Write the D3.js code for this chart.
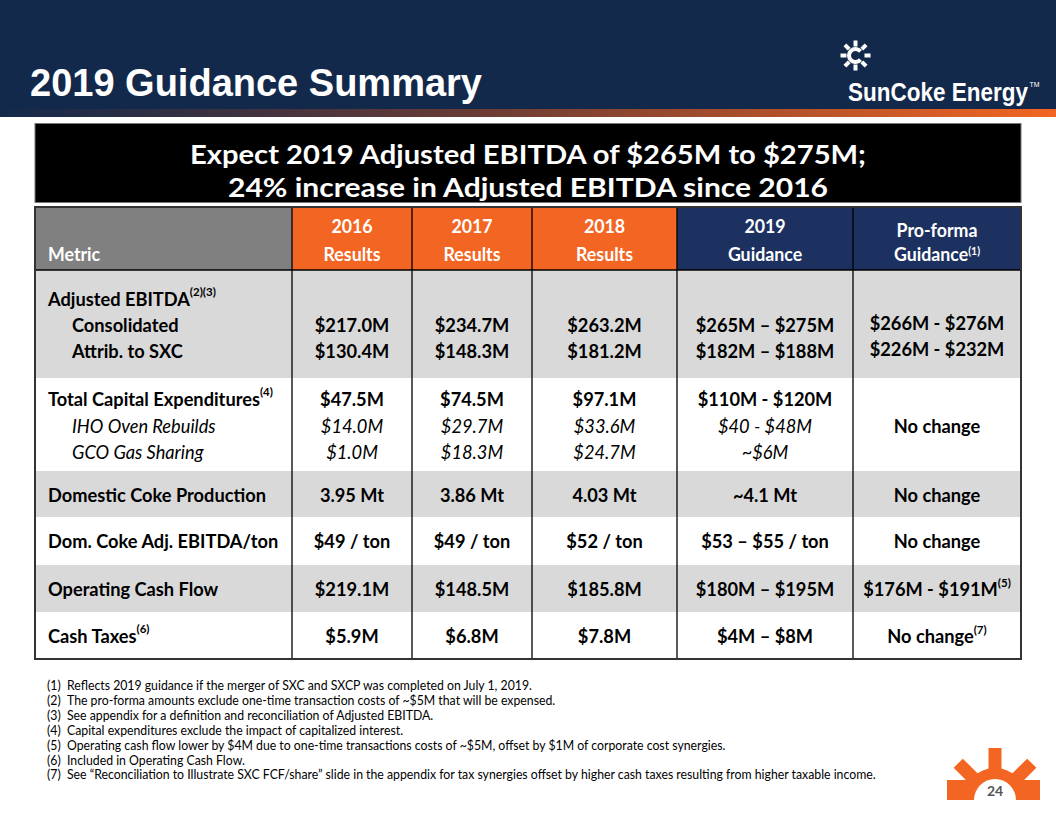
<!DOCTYPE html>
<html><head><meta charset="utf-8">
<script src="https://cdn.jsdelivr.net/npm/d3@7"></script>
<style>
html,body{margin:0;padding:0;background:#fff;}
svg{display:block;}
</style></head>
<body>
<script>
// ---------------- DATA ----------------
const slideTitle = "2019 Guidance Summary";
const bannerLines = ["Expect 2019 Adjusted EBITDA of $265M to $275M;", "24% increase in Adjusted EBITDA since 2016"];
const headerTop = ["", "2016", "2017", "2018", "2019", "Pro-forma"];
const headerBottom = ["Metric", "Results", "Results", "Results", "Guidance", "Guidance"];
const headerNotes = ["", "", "", "", "", "(1)"];
const labels = ["Adjusted EBITDA", "Consolidated", "Attrib. to SXC", "Total Capital Expenditures", "IHO Oven Rebuilds", "GCO Gas Sharing", "Domestic Coke Production", "Dom. Coke Adj. EBITDA/ton", "Operating Cash Flow", "Cash Taxes"];
const labelNotes = ["(2)(3)", "", "", "(4)", "", "", "", "", "", "(6)"];
const lineStyle = ["bold", "bold-indent", "bold-indent", "bold", "italic-indent", "italic-indent", "bold", "bold", "bold", "bold"];
const v2016 = ["", "$217.0M", "$130.4M", "$47.5M", "$14.0M", "$1.0M", "3.95 Mt", "$49 / ton", "$219.1M", "$5.9M"];
const v2017 = ["", "$234.7M", "$148.3M", "$74.5M", "$29.7M", "$18.3M", "3.86 Mt", "$49 / ton", "$148.5M", "$6.8M"];
const v2018 = ["", "$263.2M", "$181.2M", "$97.1M", "$33.6M", "$24.7M", "4.03 Mt", "$52 / ton", "$185.8M", "$7.8M"];
const v2019 = ["", "$265M – $275M", "$182M – $188M", "$110M - $120M", "$40 - $48M", "~$6M", "~4.1 Mt", "$53 – $55 / ton", "$180M – $195M", "$4M – $8M"];
const vProforma = ["", "$266M - $276M", "$226M - $232M", "", "No change", "", "No change", "No change", "$176M - $191M", "No change"];
const proformaNotes = ["", "", "", "", "", "", "", "", "(5)", "(7)"];
const footnotes = [
  "Reflects 2019 guidance if the merger of SXC and SXCP was completed on July 1, 2019.",
  "The pro-forma amounts exclude one-time transaction costs of ~$5M that will be expensed.",
  "See appendix for a definition and reconciliation of Adjusted EBITDA.",
  "Capital expenditures exclude the impact of capitalized interest.",
  "Operating cash flow lower by $4M due to one-time transactions costs of ~$5M, offset by $1M of corporate cost synergies.",
  "Included in Operating Cash Flow.",
  "See \u201cReconciliation to Illustrate SXC FCF/share\u201d slide in the appendix for tax synergies offset by higher cash taxes resulting from higher taxable income."
];
const pageNumber = "24";
const brand = "SunCoke Energy";

// ---------------- LAYOUT ----------------
const W = 1056, H = 816;
const NAVY = "#13294b", ORANGE = "#f26522", TNAVY = "#1c3160", GRAY = "#808080", BAND = "#d9d9d9";
const FONT = "Lato, 'Open Sans', sans-serif";
const K = 0.96;   // horizontal compression for table text
const KF = 0.91;  // footnotes

const svg = d3.select("body").append("svg").attr("width", W).attr("height", H);
const defs = svg.append("defs");

// header band
svg.append("rect").attr("x", 0).attr("y", 0).attr("width", W).attr("height", 110).attr("fill", NAVY);
const grad = defs.append("linearGradient").attr("id", "strip").attr("x1", "0").attr("x2", "1").attr("y1", "0").attr("y2", "0");
grad.append("stop").attr("offset", "0").attr("stop-color", NAVY);
grad.append("stop").attr("offset", "0.45").attr("stop-color", "#6a3b35");
grad.append("stop").attr("offset", "1").attr("stop-color", ORANGE);
svg.append("rect").attr("x", 0).attr("y", 109).attr("width", W).attr("height", 8).attr("fill", "url(#strip)");

svg.append("text").attr("x", 30).attr("y", 96).text(slideTitle)
  .attr("fill", "#fff").attr("font-family", "'Liberation Sans', Arial, sans-serif")
  .attr("font-weight", "bold").attr("font-size", 38);

// logo: small sun
const sun = svg.append("g").attr("transform", "translate(855.5,55.5)");
d3.range(8).forEach(i => {
  sun.append("rect").attr("x", -2).attr("y", -15).attr("width", 4).attr("height", 6)
    .attr("fill", "#fff").attr("transform", `rotate(${i * 45})`);
});
sun.append("path").attr("d", d3.arc().innerRadius(4.5).outerRadius(8.5).startAngle(Math.PI * 0.72).endAngle(Math.PI * 2.28)())
  .attr("fill", "#fff");
const brandText = svg.append("text").attr("transform", "translate(848,101) scale(0.865,1)")
  .attr("fill", "#fff").attr("font-family", "'Liberation Sans', Arial, sans-serif").attr("font-weight", "bold")
  .attr("font-size", 26);
brandText.append("tspan").text(brand);
brandText.append("tspan").attr("font-size", 8).attr("font-weight", "normal").attr("dx", 2).attr("dy", -14).text("TM");

// banner box
svg.append("rect").attr("x", 35).attr("y", 123.5).attr("width", 986).attr("height", 79)
  .attr("fill", "#000").attr("stroke", "#777").attr("stroke-width", 1);
const bannerW = [676, 600];
bannerLines.forEach((t, i) => {
  svg.append("text").attr("x", 528).attr("y", 164 + i * 33).text(t)
    .attr("text-anchor", "middle").attr("fill", "#fff").attr("font-family", FONT).attr("font-weight", "bold")
    .attr("font-size", 27.5).attr("textLength", bannerW[i]).attr("lengthAdjust", "spacingAndGlyphs");
});

// ---------------- TABLE ----------------
const colEdges = [35, 292, 412, 532, 677, 853, 1021];
const colIdx = d3.range(6);
const xLeft = d3.scaleOrdinal().domain(colIdx).range(colEdges.slice(0, 6));
const xRight = d3.scaleOrdinal().domain(colIdx).range(colEdges.slice(1));
const xMid = c => (xLeft(c) + xRight(c)) / 2;
const headFill = [GRAY, ORANGE, ORANGE, ORANGE, TNAVY, TNAVY];

const tableTop = 207, headBottom = 270, tableBottom = 659;
const groupEdges = [270, 378, 471, 517, 565, 612, 659];
const groupFill = [BAND, "#fff", BAND, "#fff", BAND, "#fff"];
const y0 = d3.scaleOrdinal().domain(d3.range(6)).range(groupEdges.slice(0, 6));
const y1 = d3.scaleOrdinal().domain(d3.range(6)).range(groupEdges.slice(1));
const lineBase = [306, 332, 358, 406, 433, 459, 502, 548, 596, 643];

const table = svg.append("g");
table.selectAll("rect.band").data(d3.range(6)).join("rect").attr("class", "band")
  .attr("x", colEdges[0]).attr("width", colEdges[6] - colEdges[0])
  .attr("y", d => y0(d)).attr("height", d => y1(d) - y0(d)).attr("fill", d => groupFill[d]);
table.selectAll("rect.head").data(colIdx).join("rect").attr("class", "head")
  .attr("x", d => xLeft(d)).attr("width", d => xRight(d) - xLeft(d))
  .attr("y", tableTop).attr("height", headBottom - tableTop).attr("fill", d => headFill[d]);

function ctext(parent, x, y, anchor, k) {
  return parent.append("text").attr("transform", `translate(${x},${y}) scale(${k || K},1)`)
    .attr("text-anchor", anchor).attr("font-family", FONT);
}

// header text
colIdx.forEach(c => {
  const ax = c === 0 ? 48 : xMid(c);
  const anchor = c === 0 ? "start" : "middle";
  const topY = c === 5 ? 237 : 233;
  if (headerTop[c]) {
    ctext(table, ax, topY, anchor).attr("fill", "#fff").attr("font-weight", "bold").attr("font-size", 18.5).text(headerTop[c]);
  }
  const t = ctext(table, ax, 261, anchor).attr("fill", "#fff").attr("font-weight", "bold").attr("font-size", 18.5);
  t.append("tspan").text(headerBottom[c]);
  if (headerNotes[c]) t.append("tspan").attr("font-size", 11).attr("dy", -6).text(headerNotes[c]);
});

// label column
labels.forEach((lab, i) => {
  const st = lineStyle[i];
  const x = st.includes("indent") ? 72 : 48;
  const t = ctext(table, x, lineBase[i], "start").attr("font-size", 19)
    .attr("font-weight", st.startsWith("italic") ? "normal" : "bold")
    .attr("font-style", st.startsWith("italic") ? "italic" : "normal").attr("fill", "#000");
  t.append("tspan").text(lab);
  if (labelNotes[i]) t.append("tspan").attr("font-size", 12).attr("dy", -10).text(labelNotes[i]);
});

// values
const valueCols = [v2016, v2017, v2018, v2019, vProforma];
valueCols.forEach((vals, k) => {
  const c = k + 1;
  vals.forEach((v, i) => {
    if (!v) return;
    const italic = lineStyle[i].startsWith("italic") && c < 5;
    const yOff = (c === 5 && (i === 1 || i === 2)) ? -2 : 0;
    const t = ctext(table, xMid(c), lineBase[i] + yOff, "middle").attr("font-size", 19)
      .attr("font-weight", italic ? "normal" : "bold").attr("font-style", italic ? "italic" : "normal").attr("fill", "#000");
    t.append("tspan").text(v);
    if (c === 5 && proformaNotes[i]) t.append("tspan").attr("font-size", 12).attr("dy", -9).text(proformaNotes[i]);
  });
});

// grid lines
table.selectAll("line.v").data(colEdges.slice(1, 6)).join("line").attr("class", "v")
  .attr("x1", d => d).attr("x2", d => d).attr("y1", tableTop).attr("y2", tableBottom)
  .attr("stroke", "#000").attr("stroke-width", 1.3);
table.append("line").attr("x1", colEdges[0]).attr("x2", colEdges[6]).attr("y1", headBottom).attr("y2", headBottom)
  .attr("stroke", "#000").attr("stroke-width", 1.3);
table.append("rect").attr("x", colEdges[0]).attr("y", tableTop).attr("width", colEdges[6] - colEdges[0])
  .attr("height", tableBottom - tableTop).attr("fill", "none").attr("stroke", "#333").attr("stroke-width", 2);

// ---------------- FOOTNOTES ----------------
footnotes.forEach((f, i) => {
  const y = 690 + i * 14.9;
  ctext(svg, 47, y, "start", KF).attr("font-size", 13.5).attr("fill", "#000").text(`(${i + 1})`);
  ctext(svg, 67, y, "start", KF).attr("font-size", 13.5).attr("fill", "#000").text(f);
});

// ---------------- PAGE BADGE ----------------
const cx = 995, cy = 800;
const badge = svg.append("g");
badge.append("rect").attr("x", 947).attr("y", 780).attr("width", 93).attr("height", 20).attr("fill", ORANGE);
badge.append("path").attr("transform", `translate(${cx},${cy})`)
  .attr("d", d3.arc().innerRadius(0).outerRadius(32).startAngle(-Math.PI / 2).endAngle(Math.PI / 2)()).attr("fill", ORANGE);
[-45, 0, 45].forEach(a => {
  badge.append("rect").attr("x", -6.5).attr("y", -52).attr("width", 13).attr("height", 24)
    .attr("fill", ORANGE).attr("transform", `translate(${cx},${cy}) rotate(${a})`);
});
badge.append("path").attr("transform", `translate(${cx},${cy})`)
  .attr("d", d3.arc().innerRadius(0).outerRadius(21).startAngle(-Math.PI / 2).endAngle(Math.PI / 2)()).attr("fill", "#fff");
badge.append("text").attr("x", cx).attr("y", 796).attr("text-anchor", "middle")
  .attr("font-family", FONT).attr("font-weight", "bold").attr("font-size", 14).attr("fill", "#555").text(pageNumber);
</script>
</body></html>
